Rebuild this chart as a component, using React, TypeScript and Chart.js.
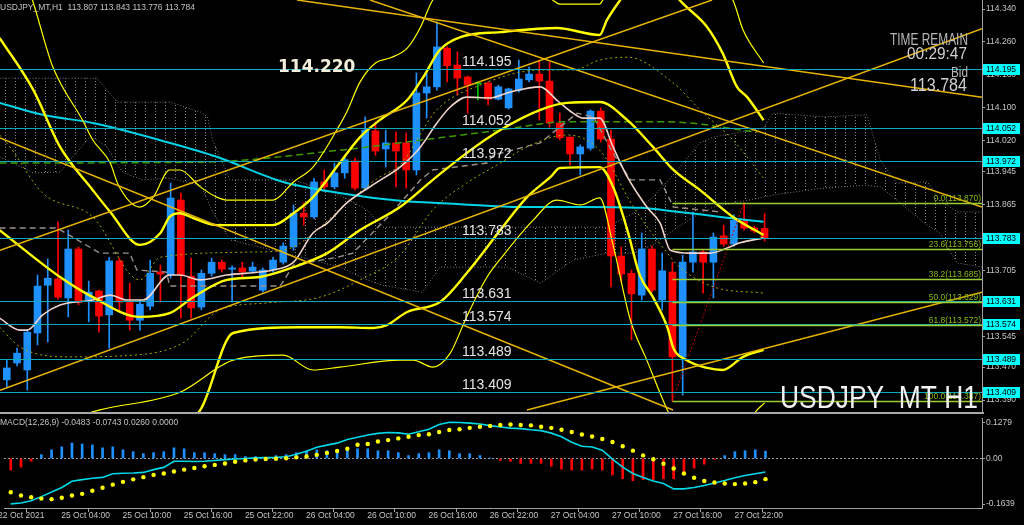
import React, { useEffect, useRef } from 'react';
import { Chart, registerables } from 'chart.js';
Chart.register(...registerables);

const FONT = '"Liberation Sans", Arial, Helvetica, sans-serif';

// ---------- DATA ----------
const SYMBOL = 'USDJPY_MT,H1';
const BIG_SYMBOL = 'USDJPY_MT H1';
const TIME_REMAIN = '00:29:47';

const OPEN = [113.439,113.480,113.463,113.553,113.669,113.684,113.638,113.757,113.633,113.655,
113.597,113.728,113.628,113.584,113.618,113.701,113.694,113.876,113.691,113.616,
113.698,113.725,113.708,113.711,113.703,113.657,113.706,113.725,113.762,113.844,
113.835,113.920,113.908,113.942,113.971,113.905,114.044,114.000,114.015,114.015,
113.949,114.136,114.151,114.245,114.204,114.175,114.158,114.160,114.121,114.100,
114.143,114.168,114.182,114.165,114.063,114.029,113.988,114.002,114.092,114.024,
113.740,113.698,113.645,113.757,113.633,113.701,113.495,113.725,113.750,113.725,
113.789,113.769,113.825,113.808,113.807];
const HIGH = [113.487,113.516,113.560,113.694,113.733,113.823,113.803,113.762,113.679,113.657,
113.737,113.735,113.674,113.633,113.730,113.718,113.917,113.893,113.735,113.706,
113.735,113.730,113.716,113.725,113.725,113.711,113.737,113.772,113.864,113.869,
113.929,113.949,113.966,113.985,113.978,114.078,114.066,114.046,114.041,114.039,
114.185,114.185,114.309,114.248,114.236,114.177,114.163,114.163,114.155,114.148,
114.216,114.199,114.216,114.211,114.087,114.029,114.010,114.095,114.100,114.046,
113.762,113.706,113.796,113.764,113.747,113.725,113.742,113.847,113.754,113.796,
113.815,113.840,113.869,113.813,113.843];
const LOW = [113.422,113.473,113.414,113.524,113.531,113.635,113.592,113.621,113.580,113.555,
113.516,113.604,113.560,113.560,113.609,113.628,113.686,113.589,113.589,113.609,
113.691,113.701,113.628,113.689,113.701,113.652,113.701,113.720,113.754,113.815,
113.830,113.900,113.903,113.929,113.900,113.900,113.985,113.956,113.908,113.905,
113.937,114.075,114.143,114.163,114.131,114.087,114.119,114.107,114.119,114.097,
114.138,114.163,114.070,114.053,114.022,113.961,113.937,113.997,114.017,113.665,
113.677,113.536,113.633,113.652,113.609,113.387,113.402,113.701,113.650,113.638,
113.764,113.764,113.803,113.796,113.776];
const CLOSE = [113.468,113.504,113.555,113.667,113.686,113.640,113.757,113.628,113.652,113.594,
113.728,113.628,113.584,113.623,113.698,113.696,113.881,113.694,113.614,113.698,
113.725,113.708,113.711,113.701,113.713,113.706,113.730,113.764,113.844,113.835,
113.920,113.908,113.942,113.974,113.905,114.046,113.995,114.015,113.995,113.949,
114.136,114.151,114.248,114.202,114.172,114.155,114.158,114.121,114.151,114.146,
114.170,114.182,114.165,114.063,114.027,113.988,114.005,114.092,114.024,113.740,
113.696,113.648,113.757,113.657,113.704,113.495,113.725,113.750,113.725,113.786,
113.769,113.827,113.808,113.801,113.784];

// indicator lines: [bar index, price]
const BB_UP3 = [[0.3,114.508],[2.5,114.362],[4.5,114.199],[7.4,114.070],[8.4,114.022],[10.1,113.966],[10.9,113.912],[13.0,113.859],[14.3,113.883],[15.9,113.949],[16.9,113.949],[18.9,113.908],[20.5,113.883],[21.5,113.876],[26.0,113.876],[28.0,113.920],[29.9,113.956],[32.5,114.058],[33.2,114.090],[34.5,114.163],[36.0,114.209],[37.4,114.221],[39.1,114.245],[40.4,114.296],[41.6,114.362],[47.2,114.484],[53.3,114.362],[54.0,114.352],[57.9,114.352],[58.2,114.362],[64.8,114.508],[70.9,114.362],[71.9,114.289],[73.9,114.209]];
const BB_UP2 = [[-0.7,114.270],[2.6,114.143],[5.2,114.005],[8.4,113.900],[10.1,113.847],[13.0,113.767],[15.0,113.796],[15.9,113.835],[16.9,113.844],[18.2,113.832],[20.5,113.815],[26.0,113.815],[28.0,113.844],[29.9,113.883],[32.5,113.966],[34.5,114.029],[36.4,114.070],[39.1,114.119],[40.6,114.172],[42.3,114.241],[44.3,114.272],[48.2,114.284],[53.7,114.294],[57.9,114.277],[58.6,114.313],[59.9,114.362],[62.8,114.459],[65.7,114.362],[68.4,114.296],[69.9,114.233],[71.3,114.151],[72.3,114.126],[73.9,114.070]];
const BB_UP1 = [[-0.7,114.034],[0.3,114.005],[3.5,113.893],[8.4,113.835],[13.0,113.682],[15.0,113.737],[24.7,113.750],[28.0,113.762],[30.6,113.810],[33.2,113.869],[36.4,113.932],[38.4,113.961],[42.0,114.095],[46.2,114.155],[52.1,114.192],[55.3,114.192],[57.9,114.216],[60.6,114.223],[65.1,114.160],[67.7,114.095],[70.9,114.022],[73.9,113.929]];
const BB_MID = [[-0.7,113.803],[5.2,113.689],[8.4,113.640],[13.0,113.592],[15.9,113.601],[18.2,113.640],[21.5,113.682],[24.7,113.689],[28.0,113.713],[31.3,113.747],[34.5,113.803],[38.4,113.859],[41.6,113.925],[44.9,113.990],[48.2,114.046],[52.1,114.095],[54.7,114.112],[57.9,114.114],[60.6,114.070],[63.1,114.005],[65.1,113.949],[67.7,113.900],[70.9,113.835],[73.9,113.791]];
const BB_LO1 = [[-0.7,113.567],[1.3,113.519],[5.9,113.495],[12.3,113.499],[17.2,113.529],[20.8,113.609],[25.4,113.626],[30.6,113.640],[34.5,113.682],[38.4,113.742],[41.6,113.852],[44.9,113.917],[48.2,113.966],[50.8,114.005],[54.7,114.034],[57.9,113.997],[61.2,113.859],[64.5,113.747],[65.7,113.713],[69.0,113.665],[73.9,113.650]];
const BB_LO2 = [[-0.7,113.244],[14.0,113.293],[18.9,113.366],[22.1,113.553],[28.6,113.567],[32.5,113.567],[35.8,113.565],[37.1,113.572],[39.1,113.604],[42.3,113.628],[44.9,113.698],[48.2,113.803],[50.8,113.883],[53.1,113.932],[54.0,113.954],[57.9,113.956],[59.2,113.908],[60.6,113.803],[61.8,113.694],[63.1,113.640],[64.5,113.567],[65.1,113.516],[66.4,113.487],[68.4,113.468],[69.9,113.463],[71.9,113.495],[73.9,113.512]];
const BB_LO3 = [[-0.7,113.293],[9.1,113.366],[16.9,113.409],[22.1,113.487],[27.0,113.499],[29.9,113.463],[32.5,113.470],[38.4,113.487],[39.7,113.487],[41.6,113.470],[43.3,113.504],[44.9,113.592],[46.9,113.689],[48.5,113.742],[51.4,113.827],[53.7,113.876],[56.0,113.864],[57.9,113.881],[59.2,113.767],[60.9,113.584],[62.5,113.487],[64.5,113.366],[67.7,113.220],[71.6,113.293],[73.1,113.361],[74.0,113.383]];
const MA_FAST = [[-0.7,113.589],[1.3,113.560],[2.0,113.560],[3.5,113.597],[5.2,113.621],[8.4,113.633],[10.1,113.645],[11.7,113.633],[13.3,113.633],[15.9,113.694],[16.9,113.694],[18.9,113.682],[21.5,113.694],[24.7,113.701],[26.0,113.706],[28.0,113.725],[29.9,113.796],[31.3,113.820],[33.2,113.869],[36.2,113.920],[38.4,113.956],[40.4,114.005],[42.0,114.063],[43.3,114.102],[44.9,114.126],[47.2,114.124],[49.1,114.138],[52.1,114.151],[53.7,114.119],[55.3,114.087],[56.3,114.075],[57.9,114.075],[59.2,114.005],[60.6,113.932],[62.5,113.859],[63.8,113.820],[64.8,113.754],[66.7,113.747],[68.7,113.747],[70.3,113.759],[71.6,113.772],[73.9,113.784]];
const MA_SLOW = [[-0.7,114.112],[3.5,114.083],[8.4,114.063],[15.6,114.017],[20.5,113.981],[27.0,113.920],[32.5,113.893],[38.4,113.874],[44.3,113.866],[50.1,113.859],[56.0,113.859],[61.8,113.857],[65.7,113.847],[69.7,113.835],[73.9,113.823]];
const MA_MID = [[-0.7,113.966],[18.9,113.968],[32.5,113.997],[38.4,114.015],[48.2,114.046],[54.7,114.066],[64.5,114.066],[73.3,114.041]];
const KIJUN = [[-0.7,113.808],[4.9,113.808],[9.1,113.747],[12.0,113.747],[12.7,113.706],[15.6,113.701],[15.9,113.667],[26.7,113.667],[28.0,113.718],[32.3,113.737],[33.8,113.747],[37.4,113.840],[40.4,113.925],[41.6,113.949],[46.9,113.966],[47.5,113.985],[52.1,114.015],[53.3,114.039],[55.7,114.087],[57.3,114.078],[59.2,113.990],[60.9,113.925],[63.8,113.925],[65.1,113.859],[69.7,113.847]];

const CLOUD_X = [-0.7,2.6,5.2,8.1,8.8,9.8,10.8,11.4,13.3,15.9,18.9,19.6,20.1,21.8,28.0,32.5,35.2,36.7,40.6,42.3,48.9,52.1,55.3,58.6,61.2,63.1,65.5,67.7,69.0,73.9,74.8,79.7,84.0,85.3,86.9,89.9,91.1,92.8,95.3];
const CLOUD_TOP = [114.172,114.172,114.172,114.172,114.172,114.143,114.114,114.114,114.114,114.114,114.090,114.078,114.022,113.925,113.925,113.888,113.852,113.810,113.810,113.810,113.810,113.810,113.810,113.810,113.844,113.883,113.949,114.015,114.029,114.051,114.087,114.078,114.083,113.973,113.917,113.920,113.876,113.847,113.847];
const CLOUD_BOT = [113.981,113.942,113.944,114.029,114.022,114.005,113.961,113.942,113.925,113.929,113.912,113.876,113.847,113.779,113.742,113.713,113.682,113.669,113.652,113.713,113.713,113.674,113.730,113.747,113.747,113.767,113.810,113.844,113.859,113.883,113.888,113.905,113.912,113.908,113.876,113.815,113.796,113.723,113.713];

const TRENDLINES = [
  [[-0.66,114.027],[65.06,113.366]],
  [[-0.66,113.754],[68.87,114.362]],
  [[-0.66,113.414],[95.23,114.292]],
  [[50.8,113.366],[95.23,113.652]],
  [[28.34,114.362],[95.23,114.126]],
  [[35.47,114.362],[95.23,113.859]],
];

const HLINES = [114.195, 114.052, 113.972, 113.783, 113.631, 113.574, 113.489, 113.409];
const MARK_PRICE = 114.220;
const FIB_ANCHORS = [[65, 113.387], [72, 113.870]];
const FIB_LEVELS = [0.0, 23.6, 38.2, 50.0, 61.8, 100.0];
const FIB_PRICES = [113.870, 113.756, 113.685, 113.629, 113.572, 113.387];

const Y_TICKS = [114.340,114.260,114.180,114.100,114.020,113.945,113.865,113.785,113.705,113.625,113.545,113.470,113.390];

const TIME_BARS = [-1.2, 5, 11, 17, 23, 29, 35, 41, 47, 53, 59, 65, 71];
const TIME_LABELS = ['22 Oct 2021','25 Oct 04:00','25 Oct 10:00','25 Oct 16:00','25 Oct 22:00','26 Oct 04:00','26 Oct 10:00','26 Oct 16:00','26 Oct 22:00','27 Oct 04:00','27 Oct 10:00','27 Oct 16:00','27 Oct 22:00'];

const MACD_LINE = [-0.163,-0.160,-0.152,-0.137,-0.120,-0.104,-0.082,-0.076,-0.071,-0.068,
-0.055,-0.053,-0.052,-0.050,-0.040,-0.032,-0.010,-0.010,-0.011,-0.010,
-0.007,-0.004,-0.002,0.000,0.002,0.003,0.004,0.006,0.015,0.026,
0.040,0.048,0.055,0.068,0.076,0.084,0.090,0.093,0.092,0.087,
0.096,0.105,0.122,0.130,0.129,0.127,0.124,0.118,0.113,0.109,
0.107,0.103,0.100,0.091,0.078,0.058,0.044,0.041,0.030,-0.002,
-0.031,-0.054,-0.068,-0.081,-0.090,-0.109,-0.109,-0.104,-0.097,-0.088,
-0.079,-0.069,-0.061,-0.055,-0.0483];
const MACD_SIGNAL = [-0.121,-0.133,-0.139,-0.144,-0.146,-0.141,-0.133,-0.127,-0.116,-0.105,
-0.094,-0.084,-0.075,-0.067,-0.059,-0.054,-0.047,-0.040,-0.034,-0.028,
-0.023,-0.018,-0.012,-0.007,-0.004,-0.002,-0.001,0.001,0.004,0.007,
0.013,0.020,0.027,0.035,0.049,0.052,0.061,0.066,0.072,0.078,
0.084,0.087,0.095,0.102,0.105,0.110,0.114,0.117,0.120,0.122,
0.120,0.119,0.114,0.110,0.103,0.095,0.086,0.079,0.070,0.059,
0.044,0.028,0.011,-0.003,-0.019,-0.036,-0.054,-0.069,-0.081,-0.086,
-0.090,-0.092,-0.090,-0.085,-0.0743];
const MACD_HIST = [-0.0417,-0.0312,-0.0104,0.0139,0.0312,0.0417,0.0556,0.0521,0.0486,0.0382,
0.0417,0.0312,0.0243,0.0174,0.0208,0.0243,0.0382,0.0347,0.0208,0.0208,
0.0174,0.0139,0.0139,0.0069,0.0069,0.0035,0.0104,0.0139,0.0208,0.0278,
0.0312,0.0278,0.0312,0.0382,0.0347,0.0347,0.0278,0.0278,0.0208,0.0104,
0.0174,0.0208,0.0312,0.0278,0.0174,0.0174,0.0104,0.0010,-0.0069,-0.0104,
-0.0174,-0.0174,-0.0174,-0.0278,-0.0382,-0.0417,-0.0417,-0.0382,-0.0417,-0.0590,
-0.0729,-0.0798,-0.0764,-0.0764,-0.0729,-0.0729,-0.0521,-0.0347,-0.0208,-0.0035,
0.0104,0.0243,0.0278,0.0312,0.0260];
const MACD_TICKS = [0.1279, 0, -0.1639];
const MACD_TICK_LABELS = ['0.1279', '0.00', '-0.1639'];
const MACD_HEADER = 'MACD(12,26,9) -0.0483 -0.0743 0.0260 0.0000';

// ---------- STYLE ----------
const X_MIN = -0.664, X_MAX = 95.23;
const Y_MIN = 113.361, Y_MAX = 114.362;
const M_MIN = -0.1778, M_MAX = 0.1453;
const BULL = '#1e90ff', BEAR = '#ff0000', DOJI = '#00c000';
const YELLOW = '#ffff00', TREND = '#e6b400';
const AXIS_TXT = '#c4c4c4', FRAME = '#a0a0a0';
const HLINE = '#0ea8bc', BOX = '#00ffff', FIB = '#9acd32', FIB_TXT = '#86b814';

Chart.defaults.font.family = FONT;

const pts = (arr) => arr.map(([x, y]) => ({ x, y }));
const lineDs = (data, color, width, extra = {}) => ({
  type: 'line', data: pts(data), borderColor: color, borderWidth: width,
  pointRadius: 0, pointHoverRadius: 0, fill: false, cubicInterpolationMode: 'monotone', ...extra,
});

function narrowText(ctx, text, x, y, px, color, width, alignRight) {
  ctx.save();
  ctx.font = `${px}px ${FONT}`;
  ctx.fillStyle = color;
  ctx.textAlign = 'left';
  ctx.textBaseline = 'alphabetic';
  const w = ctx.measureText(text).width;
  ctx.translate(alignRight ? x - width : x, y);
  ctx.scale(width / w, 1);
  ctx.fillText(text, 0, 0);
  ctx.restore();
}

const mainOverlay = {
  id: 'mainOverlay',
  afterDatasetsDraw(chart) {
    const { ctx, chartArea: a, scales } = chart;
    const x = scales.x, y = scales.y;
    ctx.save();
    ctx.beginPath();
    ctx.rect(a.left, a.top, a.right - a.left, a.bottom - a.top);
    ctx.clip();
    ctx.lineWidth = 1;
    ctx.strokeStyle = HLINE;
    HLINES.forEach((v) => {
      const py = Math.round(y.getPixelForValue(v)) + 0.5;
      ctx.beginPath(); ctx.moveTo(a.left, py); ctx.lineTo(a.right, py); ctx.stroke();
    });
    const fx = x.getPixelForValue(FIB_ANCHORS[0][0]);
    ctx.strokeStyle = FIB;
    ctx.lineWidth = 1.4;
    FIB_PRICES.forEach((v) => {
      const py = Math.round(y.getPixelForValue(v)) + 0.5;
      ctx.beginPath(); ctx.moveTo(fx, py); ctx.lineTo(a.right, py); ctx.stroke();
    });
    ctx.font = `8.5px ${FONT}`;
    ctx.fillStyle = FIB_TXT;
    ctx.textAlign = 'right';
    ctx.textBaseline = 'alphabetic';
    FIB_PRICES.forEach((v, i) => {
      ctx.fillText(`${FIB_LEVELS[i].toFixed(1)}(${v.toFixed(3)})`, a.right - 1, y.getPixelForValue(v) - 2);
    });
    ctx.font = `14px ${FONT}`;
    ctx.fillStyle = '#e4e4e4';
    ctx.textAlign = 'left';
    HLINES.forEach((v) => ctx.fillText(v.toFixed(3), 462, y.getPixelForValue(v) - 3));
    ctx.font = 'bold 17px "DejaVu Sans", sans-serif';
    ctx.fillStyle = '#f4efdc';
    ctx.textBaseline = 'top';
    ctx.fillText(MARK_PRICE.toFixed(3), 278, y.getPixelForValue(MARK_PRICE) + 1);
    narrowText(ctx, BIG_SYMBOL, 780, 408, 31, '#f2f2f2', 198, false);
    ctx.restore();
  },
  afterDraw(chart) {
    const { ctx, chartArea: a, scales } = chart;
    const y = scales.y;
    ctx.save();
    ctx.font = `8.5px ${FONT}`;
    ctx.textBaseline = 'middle';
    ctx.textAlign = 'left';
    HLINES.forEach((v) => {
      const py = Math.round(y.getPixelForValue(v));
      ctx.fillStyle = BOX;
      ctx.fillRect(a.right + 1, py - 5, 37, 11);
      ctx.fillStyle = '#000';
      ctx.fillText(v.toFixed(3), a.right + 4, py + 0.5);
    });
    const n = OPEN.length - 1;
    ctx.fillStyle = AXIS_TXT;
    ctx.textBaseline = 'alphabetic';
    ctx.fillText(`${SYMBOL}  ${OPEN[n].toFixed(3)} ${HIGH[n].toFixed(3)} ${LOW[n].toFixed(3)} ${CLOSE[n].toFixed(3)}`, 0, 9.5);
    narrowText(ctx, 'TIME REMAIN', 968, 45, 16, '#b8b8b8', 78, true);
    narrowText(ctx, TIME_REMAIN, 967, 59, 16, '#d0d0d0', 60, true);
    narrowText(ctx, 'Bid', 968, 77, 14, '#b8b8b8', 17, true);
    narrowText(ctx, CLOSE[n].toFixed(3), 967, 91, 18, '#d0d0d0', 57, true);
    ctx.restore();
  },
};

const macdOverlay = {
  id: 'macdOverlay',
  beforeDatasetsDraw(chart) {
    const { ctx, chartArea: a, scales } = chart;
    const py = Math.round(scales.y.getPixelForValue(0)) + 0.5;
    ctx.save();
    ctx.strokeStyle = '#9a9a9a';
    ctx.lineWidth = 1;
    ctx.setLineDash([2, 2]);
    ctx.beginPath(); ctx.moveTo(a.left, py); ctx.lineTo(a.right, py); ctx.stroke();
    ctx.restore();
  },
  afterDraw(chart) {
    const { ctx } = chart;
    ctx.save();
    ctx.font = `8.5px ${FONT}`;
    ctx.fillStyle = AXIS_TXT;
    ctx.textAlign = 'left';
    ctx.textBaseline = 'alphabetic';
    ctx.fillText(MACD_HEADER, 0, 11);
    ctx.restore();
  },
};

export default function App() {
  const mainRef = useRef(null);
  const macdRef = useRef(null);

  useEffect(() => {
    document.body.style.margin = '0';
    document.body.style.background = '#000';

    const pc = document.createElement('canvas');
    pc.width = 10; pc.height = 3;
    const pctx = pc.getContext('2d');
    pctx.fillStyle = '#8a8a8a';
    pctx.fillRect(5, 0, 1, 1);
    const hatch = mainRef.current.getContext('2d').createPattern(pc, 'repeat');

    const bars = OPEN.map((_, i) => i);
    const colorOf = (i) => (CLOSE[i] > OPEN[i] ? BULL : CLOSE[i] < OPEN[i] ? BEAR : DOJI);
    const straight = { tension: 0, cubicInterpolationMode: 'default' };

    const datasets = [
      ...TRENDLINES.map((t) => lineDs(t, TREND, 1.5, { ...straight, order: 1 })),
      lineDs(FIB_ANCHORS, '#c80000', 1, { ...straight, borderDash: [2, 2], order: 1 }),
      lineDs(BB_UP3, YELLOW, 1.2, { order: 2 }),
      lineDs(BB_UP2, YELLOW, 2.4, { order: 2 }),
      lineDs(BB_MID, YELLOW, 2.4, { order: 2 }),
      lineDs(BB_LO2, YELLOW, 2.4, { order: 2 }),
      lineDs(BB_LO3, YELLOW, 1.2, { order: 2 }),
      lineDs(MA_FAST, '#f0d4cc', 1.6, { order: 2 }),
      lineDs(MA_SLOW, '#00d4e8', 2, { order: 2 }),
      lineDs(BB_UP1, '#a8a800', 1, { borderDash: [2, 3], order: 3 }),
      lineDs(BB_LO1, '#a8a800', 1, { borderDash: [2, 3], order: 3 }),
      lineDs(MA_MID, '#3c9a00', 1.5, { borderDash: [7, 4], order: 3 }),
      lineDs(KIJUN, '#9a9088', 1.4, { ...straight, borderDash: [6, 4], order: 3 }),
      { type: 'bar', data: bars.map((i) => ({ x: i, y: [OPEN[i], CLOSE[i]] })), backgroundColor: bars.map(colorOf), barThickness: 7, grouped: false, minBarLength: 1, order: 4 },
      { type: 'bar', data: bars.map((i) => ({ x: i, y: [LOW[i], HIGH[i]] })), backgroundColor: bars.map(colorOf), barThickness: 1, grouped: false, order: 5 },
      lineDs(CLOUD_X.map((v, i) => [v, CLOUD_TOP[i]]), '#7a7a7a', 1, { ...straight, borderDash: [1, 2], fill: '+1', backgroundColor: hatch, order: 9 }),
      lineDs(CLOUD_X.map((v, i) => [v, CLOUD_BOT[i]]), '#7a7a7a', 1, { ...straight, borderDash: [1, 2], order: 9 }),
    ];

    const main = new Chart(mainRef.current, {
      type: 'line',
      data: { datasets },
      options: {
        animation: false, responsive: false, maintainAspectRatio: false, events: [],
        layout: { padding: 0 },
        plugins: { legend: { display: false }, tooltip: { enabled: false } },
        scales: {
          x: { type: 'linear', min: X_MIN, max: X_MAX, display: false, offset: false },
          y: {
            type: 'linear', position: 'right', min: Y_MIN, max: Y_MAX, beginAtZero: false,
            grid: { drawOnChartArea: false, drawTicks: true, tickLength: 3, color: FRAME },
            border: { display: true, color: FRAME },
            ticks: { color: AXIS_TXT, font: { size: 8.5, family: FONT }, padding: 1, callback: (v) => Number(v).toFixed(3) },
            afterBuildTicks: (s) => { s.ticks = Y_TICKS.map((v) => ({ value: v })); },
            afterFit: (s) => { s.width = 42; s.paddingTop = 0; s.paddingBottom = 0; },
          },
        },
      },
      plugins: [mainOverlay],
    });

    const macd = new Chart(macdRef.current, {
      type: 'line',
      data: {
        datasets: [
          { type: 'line', data: MACD_SIGNAL.map((v, i) => ({ x: i, y: v })), showLine: false, pointRadius: 2.2, pointBackgroundColor: YELLOW, pointBorderWidth: 0, order: 0 },
          { type: 'line', data: MACD_LINE.map((v, i) => ({ x: i, y: v })), borderColor: '#00d8e8', borderWidth: 1.6, pointRadius: 0, tension: 0, order: 1 },
          { type: 'bar', data: MACD_HIST.map((v, i) => ({ x: i, y: v })), backgroundColor: MACD_HIST.map((v) => (v >= 0 ? BULL : BEAR)), barThickness: 2, grouped: false, order: 2 },
        ],
      },
      options: {
        animation: false, responsive: false, maintainAspectRatio: false, events: [],
        layout: { padding: { top: 1, left: 0, right: 0, bottom: 0 } },
        plugins: { legend: { display: false }, tooltip: { enabled: false } },
        scales: {
          x: {
            type: 'linear', min: X_MIN, max: X_MAX, offset: false, position: 'bottom',
            grid: { drawOnChartArea: false, drawTicks: true, tickLength: 4, color: FRAME },
            border: { display: true, color: FRAME },
            ticks: { color: AXIS_TXT, font: { size: 8.5, family: FONT }, align: 'start', labelOffset: 3, padding: -1.5, autoSkip: false, maxRotation: 0, minRotation: 0, callback: (v, i) => TIME_LABELS[i] },
            afterBuildTicks: (s) => { s.ticks = TIME_BARS.map((b) => ({ value: b - 0.34 })); },
            afterFit: (s) => { s.height = 17; s.paddingLeft = 0; s.paddingRight = 0; },
          },
          y: {
            type: 'linear', position: 'right', min: M_MIN, max: M_MAX, beginAtZero: false,
            grid: { drawOnChartArea: false, drawTicks: true, tickLength: 3, color: FRAME },
            border: { display: true, color: FRAME },
            ticks: { color: AXIS_TXT, font: { size: 8.5, family: FONT }, padding: 1, callback: (v, i) => MACD_TICK_LABELS[i] },
            afterBuildTicks: (s) => { s.ticks = MACD_TICKS.map((v) => ({ value: v })); },
            afterFit: (s) => { s.width = 42; s.paddingTop = 0; s.paddingBottom = 0; },
          },
        },
      },
      plugins: [macdOverlay],
    });

    return () => { main.destroy(); macd.destroy(); };
  }, []);

  return (
    <div style={{ position: 'fixed', left: 0, top: 0, width: 1024, height: 525, background: '#000', overflow: 'hidden' }}>
      <canvas ref={mainRef} width={1024} height={412} style={{ position: 'absolute', left: 0, top: 0, width: 1024, height: 412 }} />
      <div style={{ position: 'absolute', left: 0, top: 412, width: 984, height: 2, background: '#a8a8a8' }} />
      <canvas ref={macdRef} width={1024} height={111} style={{ position: 'absolute', left: 0, top: 414, width: 1024, height: 111 }} />
    </div>
  );
}
